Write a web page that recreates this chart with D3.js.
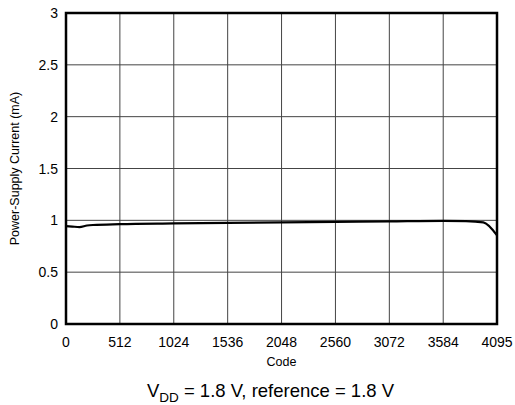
<!DOCTYPE html>
<html>
<head>
<meta charset="utf-8">
<script src="https://cdn.jsdelivr.net/npm/d3@7"></script>
<style>
  body { margin: 0; background: #fff; }
  text { font-family: "Liberation Sans", Arial, sans-serif; fill: #000; }
</style>
</head>
<body>
<script>
// ---------------------- data ----------------------
var codes   = [0, 60, 128, 200, 256, 512, 1024, 1536, 2048, 2560, 3072, 3584, 3800, 3965, 4095];
var current = [0.945, 0.94, 0.935, 0.95, 0.955, 0.963, 0.97, 0.976, 0.981, 0.985, 0.99, 0.995, 0.993, 0.98, 0.855];
var xTicks  = [0, 512, 1024, 1536, 2048, 2560, 3072, 3584, 4095];
var yTicks  = [0, 0.5, 1, 1.5, 2, 2.5, 3];

var W = 515, H = 405;
var pL = 66, pT = 13, pR = 497, pB = 324;

var svg = d3.select("body")
     .append("svg")
     .attr("width", W)
     .attr("height", H);

var x = d3.scaleLinear().domain([0, 4095]).range([pL, pR]);
var y = d3.scaleLinear().domain([0, 3]).range([pB, pT]);

// grid
svg.append("g").selectAll("line")
     .data(xTicks.slice(1, -1))
     .enter().append("line")
     .attr("x1", d => x(d)).attr("x2", d => x(d))
     .attr("y1", pT).attr("y2", pB)
     .attr("stroke", "#444").attr("stroke-width", 1);

svg.append("g").selectAll("line")
     .data(yTicks.slice(1, -1))
     .enter().append("line")
     .attr("x1", pL).attr("x2", pR)
     .attr("y1", d => y(d)).attr("y2", d => y(d))
     .attr("stroke", "#444").attr("stroke-width", 1);

// data line
var line = d3.line()
     .x((d, i) => x(codes[i]))
     .y(d => y(d))
     .curve(d3.curveMonotoneX);

svg.append("path")
     .datum(current)
     .attr("d", line)
     .attr("fill", "none")
     .attr("stroke", "#000")
     .attr("stroke-width", 2.2);

// frame
svg.append("rect")
     .attr("x", pL).attr("y", pT)
     .attr("width", pR - pL).attr("height", pB - pT)
     .attr("fill", "none")
     .attr("stroke", "#000")
     .attr("stroke-width", 2.5);

// tick labels
svg.append("g").selectAll("text")
     .data(xTicks)
     .enter().append("text")
     .attr("x", d => x(d))
     .attr("y", 347)
     .attr("text-anchor", "middle")
     .style("font-size", "14px")
     .text(d => d);

svg.append("g").selectAll("text")
     .data(yTicks)
     .enter().append("text")
     .attr("x", 58)
     .attr("y", d => y(d) + 5)
     .attr("text-anchor", "end")
     .style("font-size", "14px")
     .text(d => d);

// axis titles
svg.append("text")
     .attr("x", (pL + pR) / 2)
     .attr("y", 366)
     .attr("text-anchor", "middle")
     .style("font-size", "12.5px")
     .text("Code");

svg.append("text")
     .attr("transform", "translate(19," + ((pT + pB) / 2) + ") rotate(-90)")
     .attr("text-anchor", "middle")
     .style("font-size", "12.5px")
     .text("Power-Supply Current (mA)");

// caption
var cap = svg.append("text")
     .attr("x", (pL + pR) / 2 - 11)
     .attr("y", 397)
     .attr("text-anchor", "middle")
     .style("font-size", "18.5px");
cap.append("tspan").text("V");
cap.append("tspan").attr("dy", 5).style("font-size", "13.5px").text("DD");
cap.append("tspan").attr("dy", -5).text(" = 1.8 V, reference = 1.8 V");
</script>
</body>
</html>
